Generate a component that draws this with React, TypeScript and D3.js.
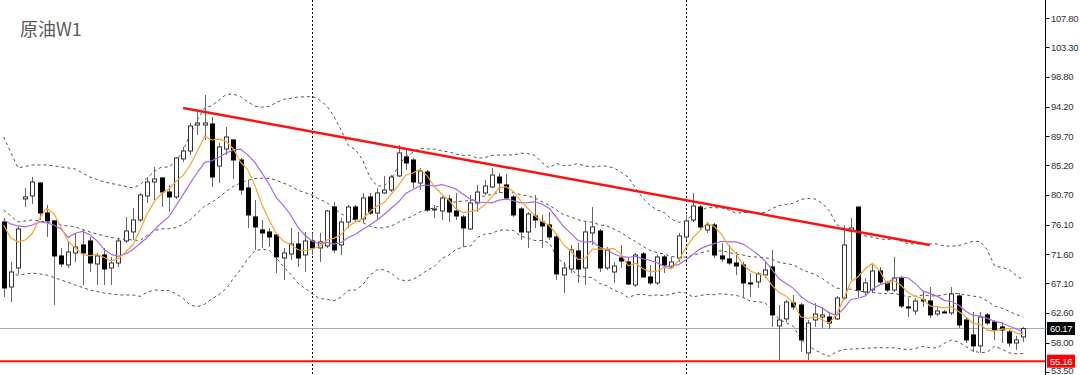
import React from 'react';
import * as d3 from 'd3';

// Weekly crude oil candles (prices)
const opens = [76.51,66.54,69.46,80.04,80.50,82.49,77.89,76.67,71.30,69.92,71.76,72.99,73.60,70.07,71.45,69.46,70.22,73.60,74.98,76.82,80.50,82.65,83.26,81.11,80.35,86.18,87.40,91.39,91.39,91.54,85.10,87.71,89.09,86.02,81.73,77.28,75.29,74.98,74.52,70.99,71.61,73.14,71.45,73.60,72.53,72.83,78.81,72.99,76.51,78.81,76.97,80.35,77.89,80.96,81.42,83.57,86.48,86.02,82.49,84.18,78.35,78.20,80.04,78.20,77.28,75.44,79.43,80.96,81.88,83.41,82.19,80.35,78.51,74.98,77.43,76.51,76.05,74.21,68.38,69.30,72.07,69.46,74.83,75.13,69.46,68.84,70.99,70.38,66.85,71.61,68.08,67.16,71.15,69.61,70.99,74.21,76.82,78.81,75.29,76.05,71.30,70.84,70.22,69.92,67.16,67.31,68.38,69.61,60.56,61.64,64.09,63.78,56.42,61.48,61.94,61.94,61.64,64.86,75.13,78.81,65.78,66.08,69.00,67.16,66.08,67.92,63.48,62.86,64.55,64.40,62.40,62.71,62.56,65.16,61.48,59.18,57.50,62.25,61.18,60.41,59.64,57.95,58.88];
const highs = [77.13,70.38,75.90,81.73,83.41,82.65,79.12,76.82,72.53,73.45,74.83,75.29,74.21,71.76,72.53,71.15,74.06,77.28,78.66,80.96,83.41,84.95,83.41,82.19,86.48,88.02,91.70,93.38,95.99,92.62,88.63,91.08,89.24,86.33,82.95,79.89,76.82,75.59,74.83,72.53,75.59,74.98,74.98,74.83,74.83,78.35,79.58,77.13,79.12,79.12,80.96,80.96,81.73,83.57,83.72,88.32,87.86,86.33,84.80,84.49,79.12,80.50,80.65,80.96,77.59,80.65,82.19,82.95,84.80,84.03,83.87,80.65,78.81,78.05,80.65,77.59,78.05,74.52,70.38,72.99,73.29,76.51,78.81,75.44,72.68,70.38,72.99,70.99,71.76,71.91,69.92,71.45,71.45,71.15,74.83,77.59,80.96,79.12,76.51,76.36,73.29,72.99,71.91,70.38,68.69,68.84,70.38,72.22,63.78,64.55,65.32,64.09,61.48,64.09,63.48,62.71,65.16,76.05,77.13,78.81,67.92,69.92,69.61,67.46,71.15,68.23,64.86,64.86,65.78,66.54,63.63,63.02,66.54,65.62,61.79,62.71,62.71,62.56,61.48,61.18,59.95,59.03,60.41];
const lows = [65.01,64.24,68.54,78.81,79.27,76.82,74.21,63.78,69.61,69.46,70.38,66.85,68.84,66.85,66.85,66.85,69.61,73.29,73.75,76.51,79.43,79.89,78.81,78.05,80.04,85.72,86.79,89.86,89.09,81.88,82.49,86.79,83.11,80.65,75.59,72.22,72.53,72.68,68.69,67.62,70.69,69.61,68.84,71.45,70.38,72.53,71.76,71.45,75.59,76.51,76.36,77.59,76.82,80.81,81.11,83.41,84.49,81.73,81.42,78.05,77.13,76.82,76.51,76.82,72.68,75.29,78.05,80.65,81.73,80.96,79.89,77.28,73.75,72.53,75.59,72.53,73.75,67.62,65.62,68.69,67.16,66.85,72.99,68.84,69.15,67.16,69.46,66.85,66.54,67.92,66.85,66.85,68.69,69.46,70.38,73.75,76.51,75.29,74.83,70.99,70.38,69.92,68.38,65.01,65.01,66.39,67.92,60.41,55.35,61.18,63.02,56.57,55.35,60.41,60.26,60.10,61.48,64.55,67.62,65.01,65.16,65.62,67.00,65.78,65.78,63.32,61.94,62.25,63.48,61.79,62.10,62.56,62.25,60.26,57.95,56.57,56.42,60.72,58.42,57.95,57.34,56.88,58.11];
const closes = [66.39,68.84,75.44,80.35,82.65,77.89,76.67,71.30,70.07,71.91,72.68,71.76,70.22,71.30,69.30,70.22,73.60,75.13,76.82,80.65,82.65,83.11,81.11,80.35,86.33,87.40,91.24,91.70,91.70,83.41,88.02,89.55,86.02,81.42,77.59,75.75,74.83,74.21,71.15,71.76,73.14,70.99,73.60,72.53,73.45,78.20,72.22,76.51,78.81,76.97,80.19,77.89,80.96,81.42,83.41,87.10,85.56,82.65,84.33,78.35,78.51,80.19,78.05,77.43,75.59,79.43,81.11,82.03,83.72,82.49,80.19,77.59,74.98,77.74,76.82,75.90,74.21,68.54,69.46,72.22,69.30,74.98,75.75,69.46,72.22,69.76,70.53,67.00,71.45,68.08,67.16,71.15,69.92,70.38,74.37,76.67,78.97,75.75,76.05,71.45,70.84,70.22,69.76,67.16,67.00,68.54,69.15,62.25,61.48,64.24,63.48,58.42,61.02,62.40,62.25,61.02,64.86,72.99,75.59,66.08,67.16,69.00,67.31,66.08,67.92,63.63,63.40,64.40,64.47,62.25,62.86,62.63,65.47,60.72,58.42,57.50,61.94,61.02,59.95,59.95,57.95,58.42,60.17];

// indicator values read at the left edge (before a full window exists)
const bandHeadIdx = [0, 2, 4, 6, 8, 10, 12, 14, 16, 18];
const upperHead = [89.55, 84.80, 85.26, 85.26, 84.95, 84.64, 83.41, 82.65, 82.19, 81.73];
const midHead = [78.35, 76.51, 76.82, 76.51, 76.05, 75.75, 74.98, 74.37, 73.91, 73.75];
const lowerHead = [68.38, 68.38, 68.69, 68.38, 67.62, 66.85, 66.08, 65.62, 65.32, 65.32];
const maFastHead = [76.05, 74.06, 73.45, 73.75];
const maSlowHead = [76.82, 76.21, 75.90, 75.75, 76.05, 76.51, 76.36, 76.05, 75.44];

const yTicks = [107.8, 103.3, 98.8, 94.2, 89.7, 85.2, 80.7, 76.1, 71.6, 67.1, 62.6, 58.0, 53.5];
const trendIdx = [25, 129];
const trendPrice = [94.0, 72.98];
const supportLevel = 55.16;
const lastPrice = 60.17;
const separatorIdx = [43, 95];
const title = '原油W1';

const W = 1080;
const H = 375;
const axisX = 1045.5;

function sma(period: number, headVals: number[]): [number, number][] {
  const pts: [number, number][] = headVals.map((v, i) => [i, v]);
  for (let i = period - 1; i < closes.length; i++) {
    if (i < headVals.length) continue;
    const s = d3.sum(closes.slice(i - period + 1, i + 1));
    pts.push([i, s / period]);
  }
  return pts;
}

function bands() {
  const up: [number, number][] = bandHeadIdx.map((i, k) => [i, upperHead[k]]);
  const mid: [number, number][] = bandHeadIdx.map((i, k) => [i, midHead[k]]);
  const lo: [number, number][] = bandHeadIdx.map((i, k) => [i, lowerHead[k]]);
  for (let i = 19; i < closes.length; i++) {
    const win = closes.slice(i - 19, i + 1);
    const m = d3.mean(win) as number;
    const sd = Math.sqrt(d3.mean(win.map(v => (v - m) * (v - m))) as number);
    up.push([i, m + 2 * sd]);
    mid.push([i, m]);
    lo.push([i, m - 2 * sd]);
  }
  return { up, mid, lo };
}

export default function App() {
  const x = d3.scaleLinear().domain([0, closes.length - 1]).range([3.6, 1023.2]);
  const y = d3.scaleLinear().domain([53.5, 107.8]).range([372, 18]);
  const line = d3.line<[number, number]>().x(d => x(d[0])).y(d => y(d[1])).curve(d3.curveLinear);

  const { up, mid, lo } = bands();
  const maFast = sma(5, maFastHead);
  const maSlow = sma(10, maSlowHead);

  const font = '"Liberation Sans", Arial, sans-serif';

  return (
    <svg width={W} height={H} style={{ position: 'absolute', left: 0, top: 0, background: '#fff' }}>
      <defs>
        <clipPath id="plot"><rect x={0} y={0} width={axisX} height={H} /></clipPath>
      </defs>
      <rect x={0} y={0} width={W} height={H} fill="#fff" />
      <g clipPath="url(#plot)">
        {separatorIdx.map(i => (
          <line key={'s' + i} x1={Math.round(x(i)) + 0.5} x2={Math.round(x(i)) + 0.5} y1={0} y2={H}
            stroke="#000" strokeWidth={1} strokeDasharray="2,2" />
        ))}
        <line x1={0} x2={axisX} y1={y(lastPrice)} y2={y(lastPrice)} stroke="#a3a9b3" strokeWidth={1} />
        {[up, mid, lo].map((b, k) => (
          <path key={'b' + k} d={line(b) || ''} fill="none" stroke="#555" strokeWidth={1} strokeDasharray="3,3" />
        ))}
        {closes.map((c, i) => {
          const o = opens[i];
          const cx = Math.round(x(i)) + 0.5;
          const bull = c >= o;
          const top = y(Math.max(o, c));
          const bot = y(Math.min(o, c));
          const h = Math.max(1, bot - top);
          return (
            <g key={i}>
              <line x1={cx} x2={cx} y1={y(highs[i])} y2={y(lows[i])} stroke="#666" strokeWidth={1} />
              <rect x={cx - 2} y={top} width={4} height={h}
                fill={bull ? '#fff' : '#000'} stroke={bull ? '#333' : '#000'} strokeWidth={1} />
            </g>
          );
        })}
        <path d={line(maSlow) || ''} fill="none" stroke="#a66af0" strokeWidth={1.2} />
        <path d={line(maFast) || ''} fill="none" stroke="#fba22c" strokeWidth={1.2} />
        <line x1={x(trendIdx[0])} y1={y(trendPrice[0])} x2={x(trendIdx[1])} y2={y(trendPrice[1])}
          stroke="#ff1010" strokeWidth={2.5} />
        <line x1={0} x2={axisX} y1={y(supportLevel)} y2={y(supportLevel)} stroke="#ff1010" strokeWidth={2} />
      </g>
      <text x={20} y={36} fontSize={18} fill="#5a5a5a" fontFamily='"Noto Sans CJK SC", "Noto Sans", sans-serif'>{title}</text>
      <line x1={axisX} x2={axisX} y1={0} y2={H} stroke="#000" strokeWidth={1} />
      {yTicks.map(t => (
        <g key={t}>
          <line x1={axisX} x2={axisX + 4} y1={Math.round(y(t)) + 0.5} y2={Math.round(y(t)) + 0.5} stroke="#000" />
          <text x={1051} y={Math.min(y(t) + 3.5, 374)} fontSize={9.5} fill="#333" fontFamily={font} letterSpacing={-0.3}>{t.toFixed(2)}</text>
        </g>
      ))}
      <line x1={axisX} x2={1047} y1={y(lastPrice)} y2={y(lastPrice)} stroke="#a3a9b3" />
      <rect x={1047} y={y(lastPrice) - 6.5} width={28} height={13} fill="#000" />
      <text x={1050} y={y(lastPrice) + 3.5} fontSize={9.5} fill="#fff" fontFamily={font} letterSpacing={-0.3}>{lastPrice.toFixed(2)}</text>
      <rect x={1047} y={y(supportLevel) - 6.5} width={28} height={13} fill="#ff0000" />
      <text x={1050} y={y(supportLevel) + 3.5} fontSize={9.5} fill="#fff" fontFamily={font} letterSpacing={-0.3}>{supportLevel.toFixed(2)}</text>
    </svg>
  );
}
